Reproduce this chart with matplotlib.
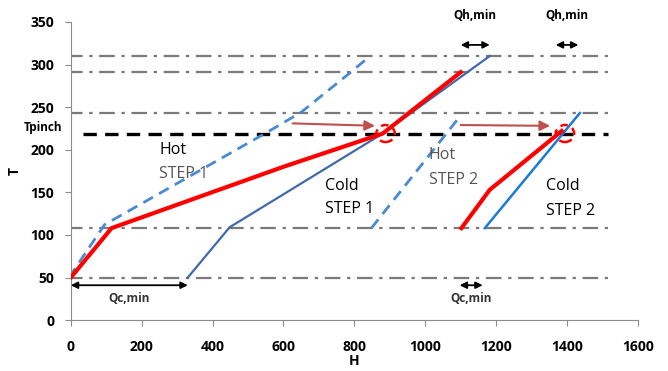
import matplotlib
matplotlib.use("Agg")
import matplotlib.pyplot as plt
from matplotlib.patches import Ellipse

# reference temperature levels (dash-dot) and pinch
levels = [310, 291, 243, 108, 50]
t_pinch = 219

# composite curves, step 1
hot1_H = [0, 115, 600, 880, 1100]
hot1_T = [50, 108, 180, 219, 291]
cold1_H = [330, 448, 880, 1182]
cold1_T = [50, 109, 219, 310]
hot1b_H = [-5, 95, 560, 650, 790, 830]
hot1b_T = [50, 112, 222, 244, 291, 305]

# composite curves, step 2
hot2_H = [1102, 1182, 1385]
hot2_T = [108, 153, 222]
cold2_H = [1168, 1436]
cold2_T = [108, 243]
hot2b_H = [848, 1092]
hot2b_T = [108, 236]

# pinch markers and shift arrows
pinch_H = [888, 1394]
shift_from = [(618, 231), (1092, 229)]
shift_to = [(866, 228), (1360, 228)]

# Qh,min / Qc,min arrows
qh_spans = [(1100, 1182), (1368, 1432)]
qc_spans = [(0, 330), (1097, 1162)]

plt.rcParams['font.family'] = ['Open Sans', 'DejaVu Sans']

fig = plt.figure(figsize=(6.68, 3.71), dpi=100)
ax = fig.add_axes([0.106, 0.137, 0.849, 0.804])

for t in levels:
    ax.plot([-10, 1515], [t, t], color='#7a7a7a', lw=1.6,
            dashes=(7, 3, 1.5, 3), zorder=1)
ax.plot([35, 1515], [t_pinch, t_pinch], color='black', lw=2.4,
        dashes=(4, 2.5), zorder=1)

ax.plot(hot1b_H, hot1b_T, color='#4a8ad0', lw=2, dashes=(4, 2.5), zorder=2)
ax.plot(hot2b_H, hot2b_T, color='#4a8ad0', lw=2, dashes=(4, 2.5), zorder=2)
ax.plot(cold1_H, cold1_T, color='#4269a8', lw=1.6, zorder=3)
ax.plot(cold2_H, cold2_T, color='#1a7ad8', lw=1.8, zorder=3)
ax.plot(hot1_H, hot1_T, color='#ff0000', lw=3, zorder=4, solid_joinstyle='round')
ax.plot(hot2_H, hot2_T, color='#ff0000', lw=3, zorder=4, solid_joinstyle='round')

for h in pinch_H:
    ax.add_patch(Ellipse((h, t_pinch), 52, 20, fill=False, ec='#ff0000',
                         lw=1.8, ls=(0, (3, 2)), zorder=5))

for (x0, y0), (x1, y1) in zip(shift_from, shift_to):
    ax.annotate('', xy=(x1, y1), xytext=(x0, y0),
                arrowprops=dict(arrowstyle='-|>,head_length=0.6,head_width=0.3',
                                color='#c0504d', lw=1.5))

for a, b in qh_spans:
    ax.annotate('', xy=(b, 323), xytext=(a, 323), annotation_clip=False,
                arrowprops=dict(arrowstyle='<|-|>,head_length=0.4,head_width=0.2',
                                color='black', lw=1.3, shrinkA=0, shrinkB=0))
    ax.text((a + b) / 2, 357, 'Qh,min', ha='center', va='center',
            fontsize=8.5, fontweight='bold', clip_on=False)

for a, b in qc_spans:
    ax.annotate('', xy=(b, 41), xytext=(a, 41),
                arrowprops=dict(arrowstyle='<|-|>,head_length=0.4,head_width=0.2',
                                color='black', lw=1.3, shrinkA=0, shrinkB=0))
    ax.text((a + b) / 2, 25, 'Qc,min', ha='center', va='center',
            fontsize=8.5, fontweight='bold', color='#333333')

txt = dict(fontsize=11.5, va='center', ha='left')
ax.text(250, 200, 'Hot', color='black', **txt)
ax.text(250, 172, 'STEP 1', color='#555555', **txt)
ax.text(716, 158, 'Cold', color='black', **txt)
ax.text(716, 130, 'STEP 1', color='black', **txt)
ax.text(1010, 194, 'Hot', color='#555555', **txt)
ax.text(1010, 164, 'STEP 2', color='#555555', **txt)
ax.text(1340, 158, 'Cold', color='black', **txt)
ax.text(1340, 128, 'STEP 2', color='black', **txt)

ax.text(-25, 226, 'Tpinch', ha='right', va='center', fontsize=8.5,
        fontweight='bold', clip_on=False)

ax.set_xlim(0, 1600)
ax.set_ylim(0, 350)
ax.set_xticks(range(0, 1601, 200))
ax.set_yticks(range(0, 351, 50))
for s in ['top', 'right']:
    ax.spines[s].set_visible(False)
for s in ['left', 'bottom']:
    ax.spines[s].set_color('#8c8c8c')
ax.tick_params(axis='both', colors='#8c8c8c', length=4, labelcolor='black',
               labelsize=10)
ax.tick_params(axis='x', pad=10)
ax.tick_params(axis='y', pad=8)
for lab in ax.get_xticklabels() + ax.get_yticklabels():
    lab.set_fontweight('bold')
ax.set_xlabel('H', fontsize=10, fontweight='bold', labelpad=0)
ax.set_ylabel('T', fontsize=10, fontweight='bold', labelpad=6, rotation=90)

fig.savefig('out.png', dpi=100)
